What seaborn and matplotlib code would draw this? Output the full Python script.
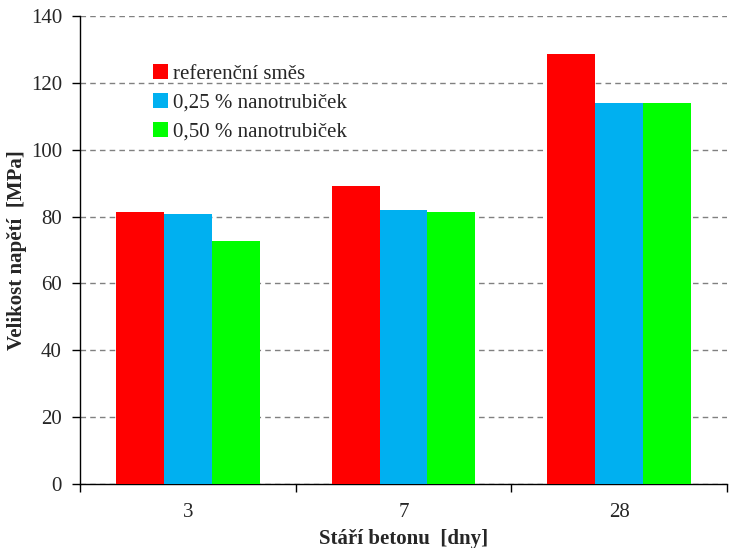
import numpy as np
import pandas as pd
import matplotlib
matplotlib.use("Agg")
import matplotlib.pyplot as plt
from matplotlib.ticker import FixedLocator
import seaborn as sns

ages = ["3", "7", "28"]
series_names = ["referenční směs", "0,25 % nanotrubiček", "0,50 % nanotrubiček"]
reference_mix = [81.4, 89.1, 128.6]
nanotubes_025 = [80.8, 82.0, 114.0]
nanotubes_050 = [72.7, 81.4, 114.0]
colors = ["#FF0000", "#00B0F0", "#00FF00"]

sns.set_style("white")
plt.rcParams["font.family"] = ["Liberation Serif", "DejaVu Serif"]

df = pd.DataFrame({
    "age": ages * 3,
    "series": [series_names[0]] * 3 + [series_names[1]] * 3 + [series_names[2]] * 3,
    "value": reference_mix + nanotubes_025 + nanotubes_050,
})

fig = plt.figure(figsize=(7.37, 5.48), dpi=100)
ax = fig.add_axes([80 / 737, 1 - 484 / 548, 647 / 737, 468 / 548])

sns.barplot(data=df, x="age", y="value", hue="series", order=ages,
            hue_order=series_names, palette=colors, width=0.665,
            saturation=1, linewidth=0, ax=ax, zorder=3)

ax.set_ylim(0, 140)
ax.set_xlim(-0.5, 2.5)
ax.set_yticks(np.arange(0, 141, 20))
ax.yaxis.grid(True, linestyle=(0, (4, 3)), color="#808080", linewidth=1, zorder=0)
ax.set_axisbelow(True)

for s in ["top", "right"]:
    ax.spines[s].set_visible(False)
for s in ["left", "bottom"]:
    ax.spines[s].set_color("black")
    ax.spines[s].set_linewidth(1)

ax.tick_params(axis="y", which="major", direction="out", length=6, width=1,
               color="black", labelsize=15, left=True, pad=7)
ax.tick_params(axis="x", which="major", length=0, labelsize=15, pad=14)
ax.xaxis.set_minor_locator(FixedLocator([-0.5, 0.5, 1.5, 2.5]))
ax.tick_params(axis="x", which="minor", direction="out", length=6, width=1,
               color="black", bottom=True)

ax.set_xlabel("Stáří betonu  [dny]", fontsize=15, fontweight="bold", labelpad=5)
ax.set_ylabel("Velikost napětí  [MPa]", fontsize=15, fontweight="bold", labelpad=3)

leg = ax.legend(loc="upper left", bbox_to_anchor=(0.1, 0.915), frameon=False,
                fontsize=15, handlelength=0.7, handleheight=0.7,
                handletextpad=0.25, labelspacing=0.45, borderaxespad=0)

fig.savefig("out.png", dpi=100)
